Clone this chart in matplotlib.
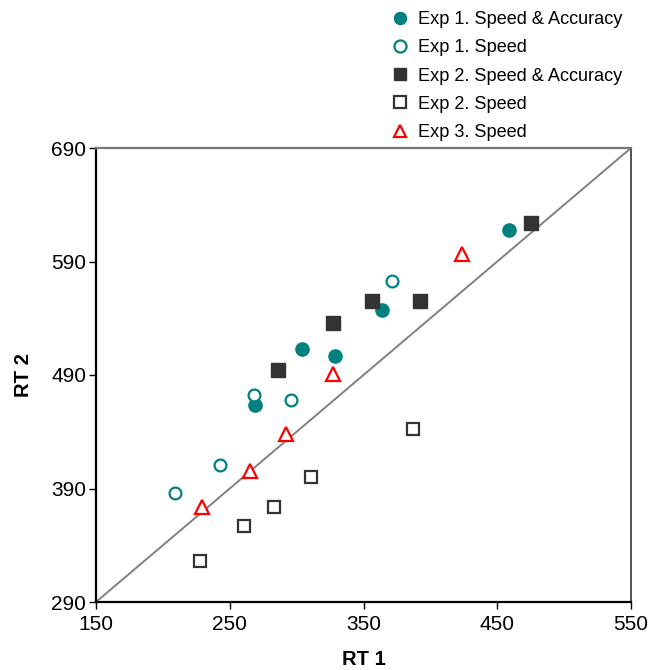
import matplotlib
matplotlib.use("Agg")
import matplotlib.pyplot as plt

plt.rcParams['font.family'] = ['Liberation Sans', 'DejaVu Sans']

exp1_sa_x = [269, 304, 329, 364, 459]
exp1_sa_y = [464, 513, 507, 547, 618]
exp1_sp_x = [268, 296, 243, 209, 371]
exp1_sp_y = [472, 468, 411, 386, 573]
exp2_sa_x = [286, 327, 356, 392, 475]
exp2_sa_y = [494, 536, 555, 555, 624]
exp2_sp_x = [228, 261, 283, 311, 387]
exp2_sp_y = [326, 357, 374, 400, 442]
exp3_sp_x = [229, 265, 292, 327, 424]
exp3_sp_y = [374, 405, 438, 491, 597]

xticks = [150, 250, 350, 450, 550]
yticks = [290, 390, 490, 590, 690]

teal = '#00807f'
dark = '#333333'
red = '#ff0000'

fig = plt.figure(figsize=(6.52, 6.70), dpi=100)
ax = fig.add_axes([96/652, 1-602/670, (631-96)/652, (602-148)/670])

ax.plot([150, 550], [290, 690], color='#808080', lw=1.4, zorder=1)

ms = 9.5
h1, = ax.plot(exp1_sa_x, exp1_sa_y, 'o', ms=ms, color=teal, mec=teal, ls='none', label='Exp 1. Speed & Accuracy', zorder=3)
h2, = ax.plot(exp1_sp_x, exp1_sp_y, 'o', ms=ms-1, mfc='white', mec=teal, mew=1.6, ls='none', label='Exp 1. Speed', zorder=3)
h3, = ax.plot(exp2_sa_x, exp2_sa_y, 's', ms=ms, color=dark, mec=dark, ls='none', label='Exp 2. Speed & Accuracy', zorder=3)
h4, = ax.plot(exp2_sp_x, exp2_sp_y, 's', ms=ms-0.5, mfc='white', mec=dark, mew=1.6, ls='none', label='Exp 2. Speed', zorder=3)
h5, = ax.plot(exp3_sp_x, exp3_sp_y, '^', ms=ms+0.5, mfc='white', mec=red, mew=1.6, ls='none', label='Exp 3. Speed', zorder=3)

ax.set_xlim(150, 550)
ax.set_ylim(290, 690)
ax.set_xticks(xticks)
ax.set_yticks(yticks)
ax.tick_params(axis='both', direction='out', length=5, width=1, labelsize=15, pad=2, colors='black')
ax.tick_params(axis='x', pad=4)
ax.tick_params(top=False, right=False)

for s in ['left', 'bottom']:
    ax.spines[s].set_linewidth(1.6)
    ax.spines[s].set_color('black')
ax.spines['top'].set_color('#777777')
ax.spines['top'].set_linewidth(1.6)
ax.spines['right'].set_color('#444444')
ax.spines['right'].set_linewidth(1.3)

ax.set_xlabel('RT 1', fontsize=14.5, fontweight='bold', labelpad=12)
ax.set_ylabel('RT 2', fontsize=14.5, fontweight='bold', labelpad=13)

leg = fig.legend(handles=[h1, h2, h3, h4, h5], loc='upper left',
                 bbox_to_anchor=(390/652, 1-11/670), frameon=False,
                 fontsize=13.1, handletextpad=0.45, labelspacing=0.62,
                 handlelength=1.1, borderpad=0, borderaxespad=0)
for h in leg.legend_handles:
    h.set_markersize(8.7)

fig.savefig('out.png', dpi=100)
